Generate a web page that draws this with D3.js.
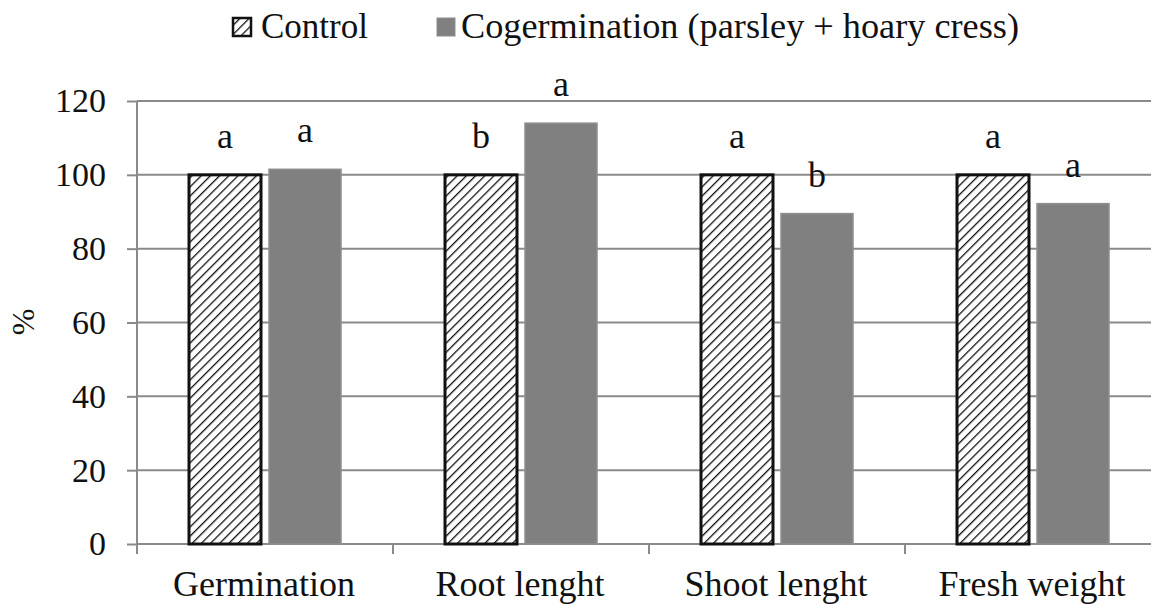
<!DOCTYPE html>
<html lang="en">
<head>
  <meta charset="UTF-8">
  <title>Cogermination chart</title>
  <script src="https://cdn.jsdelivr.net/npm/d3@7/dist/d3.min.js"></script>
  <style>
    body { margin: 0; background: #fff; }
    text { font-family: "Liberation Serif", "Times New Roman", Times, serif; fill: #111; }
    .cat-label { font-size: 36px; }
    .letter { font-size: 36px; text-anchor: middle; }
    .legend { font-size: 35px; }
  </style>
</head>
<body>
  <script>
    const categories = ["Germination", "Root lenght", "Shoot lenght", "Fresh weight"];
    const series = ["Control", "Cogermination (parsley + hoary cress)"];
    const controlValues = [100, 100, 100, 100];
    const cogermValues = [101.5, 114, 89.5, 92.2];
    const controlLetters = ["a", "b", "a", "a"];
    const cogermLetters = ["a", "a", "b", "a"];
    const yTicks = [0, 20, 40, 60, 80, 100, 120];

    const W = 1151, H = 604;
    const svg = d3.select("body").append("svg")
      .attr("width", W).attr("height", H);

    const defs = svg.append("defs");
    defs.append("pattern")
      .attr("id", "hatch")
      .attr("patternUnits", "userSpaceOnUse")
      .attr("width", 6.5).attr("height", 6.5)
      .attr("patternTransform", "rotate(45)")
      .call(p => {
        p.append("rect").attr("width", 6.5).attr("height", 6.5).attr("fill", "#fff");
        p.append("line").attr("x1", 0).attr("y1", 0).attr("x2", 0).attr("y2", 6.5)
          .attr("stroke", "#111").attr("stroke-width", 2.6);
      });

    const x = d3.scaleBand().domain(categories).range([137, 1161]);
    const x1 = d3.scaleBand().domain(series).range([52, 204]).paddingInner(0.1);
    const y = d3.scaleLinear().domain([0, 120]).range([544, 101]);

    const grey = "#8a8a8a";

    // grid lines
    svg.append("g").selectAll("line")
      .data(yTicks.filter(d => d > 0))
      .enter().append("line")
      .attr("x1", 137).attr("x2", W)
      .attr("y1", d => y(d)).attr("y2", d => y(d))
      .attr("stroke", grey).attr("stroke-width", 2);

    // y axis
    const yAxis = svg.append("g")
      .attr("transform", "translate(137,0)")
      .call(d3.axisLeft(y).tickValues(yTicks).tickSize(10).tickPadding(21));
    yAxis.attr("font-family", null).attr("font-size", null);
    yAxis.select(".domain").remove();
    yAxis.selectAll(".tick line").attr("stroke", grey).attr("stroke-width", 2);
    yAxis.selectAll(".tick text").attr("fill", "#111")
      .style("font-size", "34px");
    svg.append("line")
      .attr("x1", 137).attr("x2", 137).attr("y1", y(120)).attr("y2", 554)
      .attr("stroke", grey).attr("stroke-width", 2);

    // x axis
    svg.append("line")
      .attr("x1", 137).attr("x2", W).attr("y1", y(0)).attr("y2", y(0))
      .attr("stroke", grey).attr("stroke-width", 2);
    svg.append("g").selectAll("line")
      .data(categories.slice(1))
      .enter().append("line")
      .attr("x1", d => x(d)).attr("x2", d => x(d))
      .attr("y1", y(0)).attr("y2", y(0) + 10)
      .attr("stroke", grey).attr("stroke-width", 2);
    svg.append("g").selectAll("text")
      .data(categories)
      .enter().append("text")
      .attr("class", "cat-label")
      .attr("x", d => x(d) + x.bandwidth() / 2 - 1)
      .attr("y", 596)
      .attr("text-anchor", "middle")
      .text(d => d);

    // bars
    const rows = categories.map((c, i) => ({
      cat: c,
      vals: [
        { s: series[0], v: controlValues[i], l: controlLetters[i] },
        { s: series[1], v: cogermValues[i], l: cogermLetters[i] }
      ]
    }));

    const groups = svg.append("g").selectAll("g")
      .data(rows).enter().append("g")
      .attr("transform", d => `translate(${x(d.cat)},0)`);

    groups.selectAll("rect")
      .data(d => d.vals).enter().append("rect")
      .attr("x", d => x1(d.s))
      .attr("y", d => y(d.v))
      .attr("width", x1.bandwidth())
      .attr("height", d => y(0) - y(d.v))
      .attr("fill", (d, i) => i === 0 ? "url(#hatch)" : "#808080")
      .attr("stroke", (d, i) => i === 0 ? "#111" : "#8e8e8e")
      .attr("stroke-width", (d, i) => i === 0 ? 3 : 1.5);

    groups.selectAll("text")
      .data(d => d.vals).enter().append("text")
      .attr("class", "letter")
      .attr("x", d => x1(d.s) + x1.bandwidth() / 2)
      .attr("y", d => y(d.v) - 27)
      .text(d => d.l);

    // y title
    svg.append("text")
      .attr("transform", "translate(34,322) rotate(-90)")
      .attr("text-anchor", "middle")
      .style("font-size", "32px")
      .text("%");

    // legend
    const lg = svg.append("g");
    lg.append("rect").attr("x", 233).attr("y", 18).attr("width", 18).attr("height", 18)
      .attr("fill", "url(#hatch)").attr("stroke", "#111").attr("stroke-width", 2.5);
    lg.append("text").attr("class", "legend").attr("x", 261).attr("y", 38).text(series[0]);
    lg.append("rect").attr("x", 437).attr("y", 18).attr("width", 18).attr("height", 18)
      .attr("fill", "#808080").attr("stroke", "#8e8e8e").attr("stroke-width", 1);
    lg.append("text").attr("class", "legend").attr("x", 461).attr("y", 38)
      .attr("textLength", 558).attr("lengthAdjust", "spacingAndGlyphs")
      .text(series[1]);
  </script>
</body>
</html>
